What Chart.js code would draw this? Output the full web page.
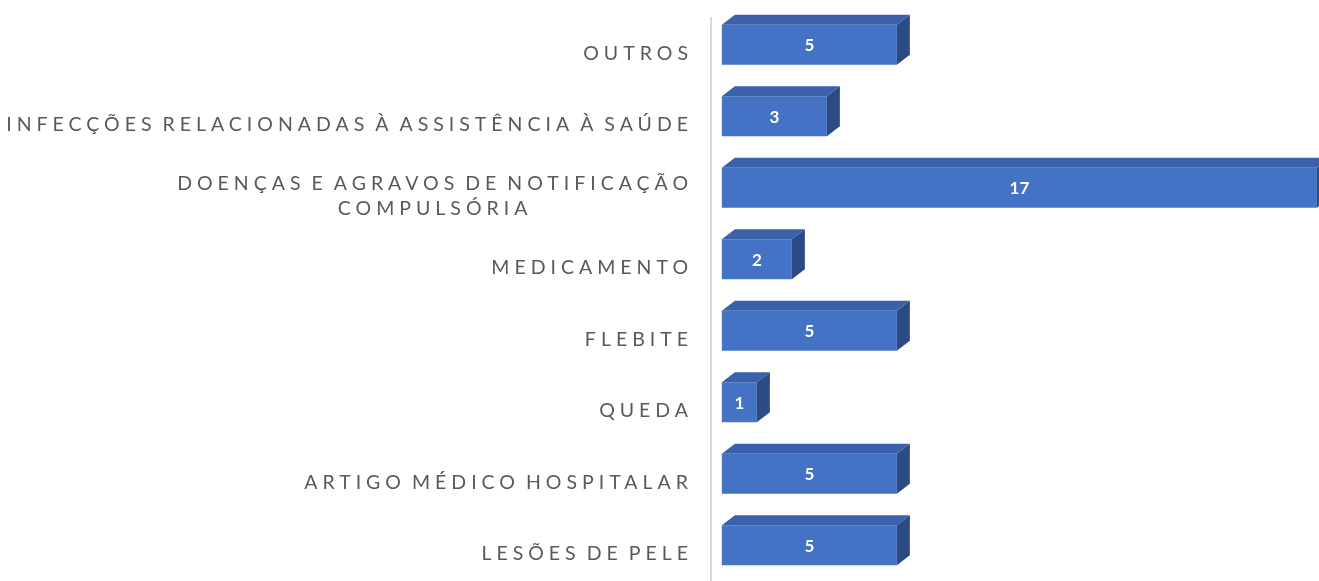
<!DOCTYPE html>
<html>
<head>
    <meta charset="utf-8">
    <title>Notificações por tipo</title>
    <script src="https://cdn.jsdelivr.net/npm/chart.js"></script>
    <style>
        html, body {
            margin: 0;
            padding: 0;
            background: #ffffff;
            overflow: hidden;
        }
        #wrap {
            position: relative;
            width: 1319px;
            height: 581px;
        }
    </style>
</head>
<body>
    <div id="wrap"><canvas id="notifChart"></canvas></div>

    <script>
    const categories = [
        'OUTROS',
        'INFECÇÕES RELACIONADAS À ASSISTÊNCIA À SAÚDE',
        ['DOENÇAS E AGRAVOS DE NOTIFICAÇÃO', 'COMPULSÓRIA'],
        'MEDICAMENTO',
        'FLEBITE',
        'QUEDA',
        'ARTIGO MÉDICO HOSPITALAR',
        'LESÕES DE PELE'
    ];
    const values = [5, 3, 17, 2, 5, 1, 5, 5];

    const FRONT = '#4472c4';
    const TOP = '#3a62ab';
    const SIDE = '#2c4b85';
    const LABEL_FONT = '19.5px Lato';
    const LABEL_SPACING = 5;
    const WORD_SPACING = -4;

    // Excel-style 3D box: chart.js draws the front face, we add top + side and the texts
    const boxes3d = {
        id: 'boxes3d',
        afterDatasetsDraw(chart) {
            const ctx = chart.ctx;
            const meta = chart.getDatasetMeta(0);
            const dx = 13, dy = 10;
            meta.data.forEach((bar, i) => {
                const p = bar.getProps(['x', 'y', 'base', 'height'], true);
                const top = p.y - p.height / 2;
                const bottom = p.y + p.height / 2;
                ctx.save();
                ctx.fillStyle = TOP;
                ctx.beginPath();
                ctx.moveTo(p.base, top);
                ctx.lineTo(p.base + dx, top - dy);
                ctx.lineTo(p.x + dx, top - dy);
                ctx.lineTo(p.x, top);
                ctx.closePath();
                ctx.fill();
                ctx.fillStyle = SIDE;
                ctx.beginPath();
                ctx.moveTo(p.x, top);
                ctx.lineTo(p.x + dx, top - dy);
                ctx.lineTo(p.x + dx, bottom - dy);
                ctx.lineTo(p.x, bottom);
                ctx.closePath();
                ctx.fill();

                ctx.fillStyle = '#ffffff';
                ctx.font = 'bold 17px Lato';
                ctx.textAlign = 'center';
                ctx.textBaseline = 'middle';
                ctx.fillText(String(values[i]), (p.base + p.x) / 2, p.y + 1);
                ctx.restore();
            });
        },
        afterDraw(chart) {
            const ctx = chart.ctx;
            const yScale = chart.scales.y;
            const area = chart.chartArea;

            ctx.save();
            ctx.strokeStyle = '#d9d9d9';
            ctx.lineWidth = 2;
            ctx.beginPath();
            ctx.moveTo(area.left, area.top + 8);
            ctx.lineTo(area.left, area.bottom);
            ctx.stroke();

            ctx.font = LABEL_FONT;
            ctx.letterSpacing = LABEL_SPACING + 'px';
            ctx.wordSpacing = WORD_SPACING + 'px';
            ctx.fillStyle = '#595959';
            ctx.textAlign = 'left';
            ctx.textBaseline = 'middle';
            const right = area.left - 23;
            categories.forEach((lab, i) => {
                const lines = Array.isArray(lab) ? lab : [lab];
                const cy = yScale.getPixelForValue(i) + 8.5;
                const lh = 25;
                const widths = lines.map(l => ctx.measureText(l).width - LABEL_SPACING);
                const maxW = Math.max(...widths);
                lines.forEach((l, k) => {
                    const ly = cy + (k - (lines.length - 1) / 2) * lh;
                    const lx = right - maxW / 2 - widths[k] / 2;
                    ctx.fillText(l, lx, ly);
                });
            });
            ctx.restore();
        }
    };

    new Chart(document.getElementById('notifChart'), {
        type: 'bar',
        data: {
            labels: categories,
            datasets: [{
                data: values,
                backgroundColor: FRONT,
                borderWidth: 0,
                barPercentage: 0.56,
                categoryPercentage: 1
            }]
        },
        options: {
            indexAxis: 'y',
            responsive: true,
            maintainAspectRatio: false,
            animation: false,
            layout: { padding: { top: 9, left: 0, right: 0, bottom: 0 } },
            plugins: {
                legend: { display: false },
                tooltip: { enabled: false }
            },
            scales: {
                x: {
                    display: false,
                    min: -0.31,
                    max: 17.06
                },
                y: {
                    ticks: { display: false },
                    grid: { display: false },
                    border: { display: false },
                    afterFit(scale) {
                        scale.width = 711;
                    }
                }
            }
        },
        plugins: [boxes3d]
    });
    </script>
</body>
</html>
